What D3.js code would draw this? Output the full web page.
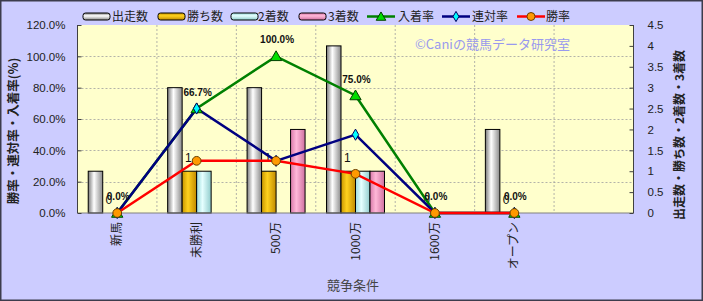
<!DOCTYPE html>
<html><head><meta charset="utf-8">
<script src="https://cdn.jsdelivr.net/npm/d3@7/dist/d3.min.js"></script>
<style>
html,body{margin:0;padding:0;background:#fff;}
svg{display:block;}
text{font-family:"Liberation Sans","Noto Sans CJK JP",sans-serif;}
.jp{font-family:"Noto Sans CJK JP","Liberation Sans",sans-serif;}
</style></head>
<body>
<svg id="chart" width="703" height="301"></svg>
<script>
// ---- data ----
const categories = ["新馬","未勝利","500万","1000万","1600万","オープン"];
const runs    = [1,3,3,4,0,2];   // 出走数
const wins    = [0,1,1,1,0,0];   // 勝ち数
const seconds = [0,1,0,1,0,0];   // 2着数
const thirds  = [0,0,2,1,0,0];   // 3着数
const placeRate   = [0,66.7,100,75,0,0];   // 入着率 %
const rentaiRate  = [0,66.7,33.3,50,0,0];  // 連対率 %
const winRate     = [0,33.3,33.3,25,0,0];  // 勝率 %
const leftTicks  = [0,20,40,60,80,100,120];
const rightTicks = [0,0.5,1,1.5,2,2.5,3,3.5,4,4.5];
const barSeries = [
  {name:"出走数", values:runs,    c:["#7a7a7a","#ffffff","#8a8a8a"]},
  {name:"勝ち数", values:wins,    c:["#c89600","#ffd21e","#c08a00"]},
  {name:"2着数", values:seconds, c:["#9adada","#e6ffff","#90cccc"]},
  {name:"3着数", values:thirds,  c:["#d878a8","#ffb8d8","#d070a0"]}
];
const lineSeries = [
  {name:"入着率", values:placeRate,  color:"#008000", marker:"tri"},
  {name:"連対率", values:rentaiRate, color:"#000080", marker:"dia"},
  {name:"勝率",   values:winRate,    color:"#ff0000", marker:"circ"}
];

const W=703,H=301;
const L=77.5,R=633.5,T=25,B=213;
const svg=d3.select("#chart");
const defs=svg.append("defs");

// backgrounds
svg.append("rect").attr("x",0).attr("y",0).attr("width",W).attr("height",H).attr("fill","#ccccff");
svg.append("rect").attr("x",0.75).attr("y",0.75).attr("width",W-1.5).attr("height",H-1.5).attr("fill","none").attr("stroke","#3c3c4c").attr("stroke-width",1.5);
svg.append("rect").attr("x",L).attr("y",T).attr("width",R-L).attr("height",B-T).attr("fill","#ffffcc");

// scales
const x=d3.scaleBand().domain(categories.concat([" "])).range([L,R]).paddingInner(0).paddingOuter(0);
const xs=d3.scaleBand().domain(barSeries.map(s=>s.name)).range([0,x.bandwidth()*0.73]);
const yL=d3.scaleLinear().domain([0,120]).range([B,T]);
const yR=d3.scaleLinear().domain([0,4.5]).range([B,T]);
const cx=c=>x(c)+x.bandwidth()/2;

// gridlines
const g=svg.append("g");
g.selectAll(".hg").data(leftTicks.slice(1,-1)).join("line")
 .attr("x1",L).attr("x2",R).attr("y1",d=>Math.round(yL(d))+0.5).attr("y2",d=>Math.round(yL(d))+0.5)
 .attr("stroke","#a0a0a0").attr("stroke-width",0.8).attr("stroke-dasharray","2,2");
g.selectAll(".vg").data(x.domain().slice(1)).join("line")
 .attr("x1",d=>x(d)).attr("x2",d=>x(d)).attr("y1",T).attr("y2",B)
 .attr("stroke","#a0a0a0").attr("stroke-width",0.8).attr("stroke-dasharray","2,2");

// gradients
barSeries.forEach((s,i)=>{
  const gr=defs.append("linearGradient").attr("id","bg"+i).attr("x1","0").attr("x2","1").attr("y1","0").attr("y2","0");
  gr.append("stop").attr("offset","0").attr("stop-color",s.c[0]);
  gr.append("stop").attr("offset","0.4").attr("stop-color",s.c[1]);
  gr.append("stop").attr("offset","1").attr("stop-color",s.c[2]);
  const gv=defs.append("linearGradient").attr("id","bv"+i).attr("x1","0").attr("x2","0").attr("y1","0").attr("y2","1");
  gv.append("stop").attr("offset","0").attr("stop-color",s.c[0]);
  gv.append("stop").attr("offset","0.4").attr("stop-color",s.c[1]);
  gv.append("stop").attr("offset","1").attr("stop-color",s.c[2]);
});

// bars
const groupOff=(x.bandwidth()-x.bandwidth()*0.73)/2;
barSeries.forEach((s,i)=>{
  svg.append("g").selectAll("rect").data(categories.map((c,j)=>({c,v:s.values[j]})).filter(d=>d.v>0)).join("rect")
   .attr("x",d=>x(d.c)+groupOff+xs(s.name))
   .attr("y",d=>yR(d.v))
   .attr("width",xs.bandwidth())
   .attr("height",d=>B-yR(d.v))
   .attr("fill","url(#bg"+i+")").attr("stroke","#000").attr("stroke-width",1);
});

// axes lines
svg.append("line").attr("x1",L).attr("x2",R).attr("y1",B).attr("y2",B).attr("stroke","#808080").attr("stroke-width",1);
svg.append("line").attr("x1",L).attr("x2",L).attr("y1",T).attr("y2",B).attr("stroke","#404040").attr("stroke-width",1);
svg.append("line").attr("x1",R).attr("x2",R).attr("y1",T).attr("y2",B).attr("stroke","#404040").attr("stroke-width",1);

// left axis
const axL=svg.append("g").attr("transform",`translate(${L},0)`)
 .call(d3.axisLeft(yL).tickValues(leftTicks).tickFormat(d=>d.toFixed(1)+"%").tickSize(-4).tickPadding(12));
axL.select(".domain").remove();
axL.selectAll("line").attr("stroke","#404040");
axL.selectAll("text").attr("font-size","11.5px").attr("fill","#222").style("font-family","'Liberation Sans',sans-serif");
// right axis
const axR=svg.append("g").attr("transform",`translate(${R},0)`)
 .call(d3.axisRight(yR).tickValues(rightTicks).tickFormat(d=>String(d)).tickSize(-4).tickPadding(14));
axR.select(".domain").remove();
axR.selectAll("line").attr("stroke","#404040");
axR.selectAll("text").attr("font-size","11.5px").attr("fill","#222").style("font-family","'Liberation Sans',sans-serif");

// x labels
svg.append("g").selectAll("text").data(categories).join("text").attr("class","jp")
 .attr("transform",d=>`translate(${cx(d)+4},222) rotate(-90)`)
 .attr("text-anchor","end").attr("font-size","12px").attr("fill","#222").text(d=>d);

// titles
svg.append("text").attr("class","jp").attr("transform","translate(18,131) rotate(-90)").attr("text-anchor","middle")
 .attr("font-size","12.5px").attr("font-weight","bold").attr("fill","#222").text("勝率・連対率・入着率(%)");
svg.append("text").attr("class","jp").attr("transform","translate(684,135) rotate(-90)").attr("text-anchor","middle")
 .attr("font-size","12px").attr("font-weight","bold").attr("fill","#222").text("出走数・勝ち数・2着数・3着数");
svg.append("text").attr("class","jp").attr("x",353).attr("y",290).attr("text-anchor","middle")
 .attr("font-size","13px").attr("fill","#444").text("競争条件");

// watermark
svg.append("text").attr("class","jp").attr("x",415).attr("y",49).attr("font-size","13px").attr("fill","#9999ee").text("©Caniの競馬データ研究室");

// bar labels (勝ち数)
svg.append("g").selectAll("text").data(categories.map((c,j)=>({c,v:wins[j]}))).join("text")
 .attr("x",d=>x(d.c)+groupOff+xs("勝ち数")+xs.bandwidth()/2-1)
 .attr("y",d=>yR(d.v)-9).attr("text-anchor","middle")
 .attr("font-size","12px").attr("fill","#111").text(d=>d.v);

// lines
const line=d3.line().x(d=>cx(d.c)).y(d=>yL(d.v));
lineSeries.forEach(s=>{
  const pts=categories.map((c,j)=>({c,v:s.values[j]}));
  svg.append("path").datum(pts).attr("d",line).attr("fill","none").attr("stroke",s.color).attr("stroke-width",2.5);
});
const sym={tri:d3.symbol().type(d3.symbolTriangle).size(55),dia:d3.symbol().type(d3.symbolDiamond).size(36),circ:d3.symbol().type(d3.symbolCircle).size(60)};
const mfill={tri:"#00dd00",dia:"#00ffff",circ:"#ff9900"};
const mstroke={tri:"#004000",dia:"#000060",circ:"#6a4000"};
lineSeries.forEach(s=>{
  const pts=categories.map((c,j)=>({c,v:s.values[j]}));
  svg.append("g").selectAll("path").data(pts).join("path")
   .attr("transform",d=>`translate(${cx(d.c)},${yL(d.v)+(s.marker==="tri"?1:0)})`)
   .attr("d",sym[s.marker]()).attr("fill",mfill[s.marker]).attr("stroke",mstroke[s.marker]).attr("stroke-width",1);
});

// 入着率 labels
svg.append("g").selectAll("text").data(categories.map((c,j)=>({c,v:placeRate[j]}))).join("text")
 .attr("x",d=>cx(d.c)+1).attr("y",d=>yL(d.v)-13).attr("text-anchor","middle")
 .attr("font-size","10px").attr("font-weight","bold").attr("fill","#111").text(d=>d.v.toFixed(1)+"%");

// legend
const lg=svg.append("g");
const legBar=[{x:83,tx:112},{x:158,tx:187},{x:231,tx:258},{x:299,tx:328}];
barSeries.forEach((s,i)=>{
  lg.append("rect").attr("x",legBar[i].x).attr("y",13).attr("width",27).attr("height",7).attr("rx",2.5)
   .attr("fill","url(#bv"+i+")").attr("stroke","#000").attr("stroke-width",1);
  lg.append("text").attr("class","jp").attr("x",legBar[i].tx).attr("y",21).attr("font-size","12px").attr("fill","#222").text(s.name);
});
const legLine=[{x:367,tx:398},{x:442,tx:472},{x:517,tx:546}];
const legSym={tri:d3.symbol().type(d3.symbolTriangle).size(40),dia:d3.symbol().type(d3.symbolDiamond).size(30),circ:d3.symbol().type(d3.symbolCircle).size(50)};
lineSeries.forEach((s,i)=>{
  lg.append("line").attr("x1",legLine[i].x).attr("x2",legLine[i].x+28).attr("y1",16.5).attr("y2",16.5).attr("stroke",s.color).attr("stroke-width",2.5);
  lg.append("path").attr("transform",`translate(${legLine[i].x+14},${16.5+(s.marker==="tri"?1:0)})`).attr("d",legSym[s.marker]())
   .attr("fill",mfill[s.marker]).attr("stroke",mstroke[s.marker]).attr("stroke-width",1);
  lg.append("text").attr("class","jp").attr("x",legLine[i].tx).attr("y",21).attr("font-size","12px").attr("fill","#222").text(s.name);
});
</script>
</body></html>
